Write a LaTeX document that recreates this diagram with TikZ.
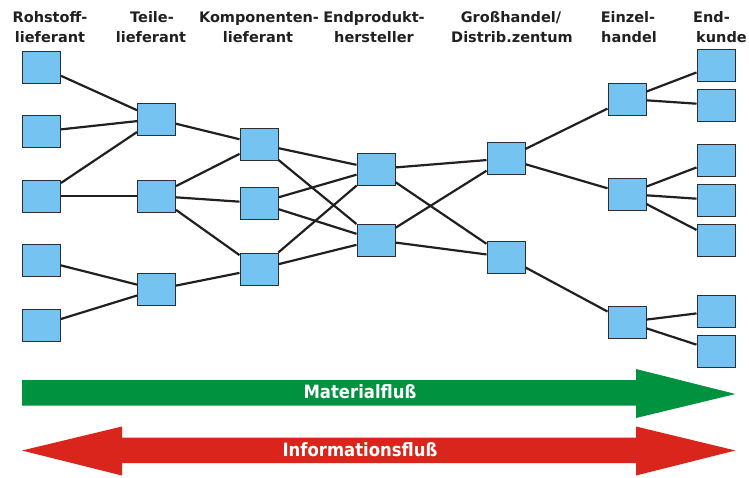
\documentclass[tikz,border=0pt]{standalone}
\usepackage{fontspec}
\setmainfont{DejaVu Sans}
\newfontfamily\condfont{DejaVu Sans Condensed}
\definecolor{boxblue}{RGB}{117,195,240}
\definecolor{boxedge}{RGB}{45,45,50}
\definecolor{linedark}{RGB}{35,31,32}
\definecolor{flowgreen}{RGB}{0,146,63}
\definecolor{flowred}{RGB}{218,37,29}
\begin{document}
\begin{tikzpicture}[x=1pt,y=-1pt,
  stage/.style={draw=boxedge,fill=boxblue,line width=1pt,minimum width=38pt,minimum height=32pt,inner sep=0pt},
  link/.style={draw=linedark,line width=2.2pt},
  head/.style={font=\bfseries\fontsize{14.5}{19}\selectfont,text=linedark,anchor=base,inner sep=0pt},
  flowlabel/.style={font=\condfont\bfseries\fontsize{18.3}{20}\selectfont,text=white,anchor=base,inner sep=0pt}]
\useasboundingbox (0,0) rectangle (749,477);
% headers
\node[head] (h1a) at (50,22) {Rohstoff-};
\node[head] (h1b) at (50,42) {lieferant};
\node[head] (h2a) at (152,22) {Teile-};
\node[head] (h2b) at (151,42) {lieferant};
\node[head] (h3a) at (259,22) {Komponenten-};
\node[head] (h3b) at (258,42) {lieferant};
\node[head] (h4a) at (374,22) {Endprodukt-};
\node[head] (h4b) at (374,42) {hersteller};
\node[head] (h5a) at (511,22) {Großhandel/};
\node[head] (h5b) at (512,42) {Distrib.zentum};
\node[head] (h6a) at (628,22) {Einzel-};
\node[head] (h6b) at (629,42) {handel};
\node[head,anchor=base west] (h7a) at (693,22) {End-};
\node[head,anchor=base west] (h7b) at (696,42) {kunde};
% boxes
\node[stage] (a1) at (41.5,67) {};
\node[stage] (a2) at (41.5,131.5) {};
\node[stage] (a3) at (41.5,196) {};
\node[stage] (a4) at (41.5,260.5) {};
\node[stage] (a5) at (41.5,325) {};
\node[stage] (b1) at (156.5,119) {};
\node[stage] (b2) at (156.5,196) {};
\node[stage] (b3) at (156.5,289.5) {};
\node[stage] (c1) at (259,144) {};
\node[stage] (c2) at (259,203) {};
\node[stage] (c3) at (259,269) {};
\node[stage] (d1) at (376,169) {};
\node[stage] (d2) at (376,240) {};
\node[stage] (e1) at (506,158.5) {};
\node[stage] (e2) at (506,257) {};
\node[stage] (f1) at (627,99) {};
\node[stage] (f2) at (627,194) {};
\node[stage] (f3) at (627,322) {};
\node[stage] (g1) at (716,65) {};
\node[stage] (g2) at (716,105) {};
\node[stage] (g3) at (716,160) {};
\node[stage] (g4) at (716,200) {};
\node[stage] (g5) at (716,240) {};
\node[stage] (g6) at (716,311) {};
\node[stage] (g7) at (716,351) {};
% links
\draw[link] (a1) -- (b1);
\draw[link] (a2) -- (b1);
\draw[link] (a3) -- (b1);
\draw[link] (a3) -- (b2);
\draw[link] (a4) -- (b3);
\draw[link] (a5) -- (b3);
\draw[link] (b1) -- (c1);
\draw[link] (b2) -- (c1);
\draw[link] (b2) -- (c2);
\draw[link] (b2) -- (c3);
\draw[link] (b3) -- (c3);
\draw[link] (c1) -- (d1);
\draw[link] (c1) -- (d2);
\draw[link] (c2) -- (d1);
\draw[link] (c2) -- (d2);
\draw[link] (c3) -- (d1);
\draw[link] (c3) -- (d2);
\draw[link] (d1) -- (e1);
\draw[link] (d1) -- (e2);
\draw[link] (d2) -- (e1);
\draw[link] (d2) -- (e2);
\draw[link] (e1) -- (f1);
\draw[link] (e1) -- (f2);
\draw[link] (e2) -- (f3);
\draw[link] (f1) -- (g1);
\draw[link] (f1) -- (g2);
\draw[link] (f2) -- (g3);
\draw[link] (f2) -- (g4);
\draw[link] (f2) -- (g5);
\draw[link] (f3) -- (g6);
\draw[link] (f3) -- (g7);
% flow arrows
\fill[flowgreen] (22,380) -- (636,380) -- (636,369) -- (735.5,394) -- (636,418) -- (636,405.5) -- (22,405.5) -- cycle;
\fill[flowred] (22,450.5) -- (122,426.5) -- (122,437.5) -- (636,437.5) -- (636,426.5) -- (735.5,450.5) -- (636,475.5) -- (636,463) -- (122,463) -- (122,475.5) -- cycle;
\node[flowlabel] (mat) at (360,398.5) {Materialfluß};
\node[flowlabel] (inf) at (360,456) {Informationsfluß};
\end{tikzpicture}
\end{document}
